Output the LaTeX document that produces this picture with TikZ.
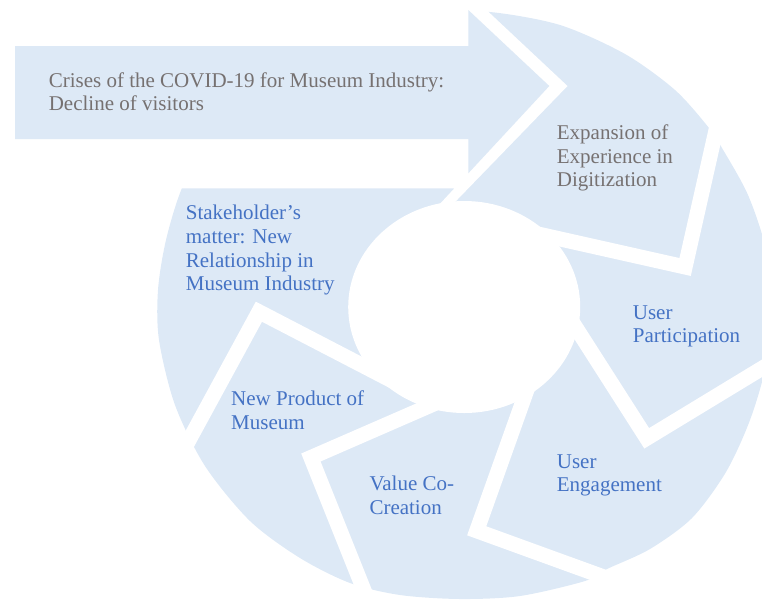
\documentclass[tikz,border=0pt]{standalone}
\usepackage{fontspec}
\setmainfont{Liberation Serif}
\definecolor{ringblue}{RGB}{221,233,246}
\definecolor{txtblue}{RGB}{68,114,196}
\definecolor{txtgray}{RGB}{118,113,113}
\begin{document}
\begin{tikzpicture}[x=1pt,y=-1pt,
  lbl/.style={font=\fontsize{21}{23.7}\selectfont, align=left, anchor=base west, inner sep=0pt},
  gapline/.style={white, line width=15pt, line join=miter, miter limit=10}]
\useasboundingbox (0,0) rectangle (762,600);
% ring
\fill[ringblue] plot[smooth cycle, tension=0.5] coordinates {
 (440,14) (490,12) (560,25) (625,54) (675,90) (709,128) (722,148) (748,195)
 (766,250) (771,310) (766,365) (750,420) (726,472) (692,518) (650,549) (607,569)
 (585,581) (520,596) (460,599) (400,595) (350,583) (300,558) (250,521) (205,466)
 (175,405) (159,340) (158,290) (166,240) (182,188) (210,135) (260,80) (330,38) (390,20)};
\fill[white] (464.2,307) ellipse [x radius=116, y radius=106];
% gaps between segments
\draw[gapline] (729.2,71.5) -- (685.1,267) -- (509.5,227.6);
\draw[gapline] (556.7,297.5) -- (646.7,438.3) -- (808.1,340.3);
\draw[gapline] (538.5,357.5) -- (476.7,530.8) -- (656,595.9);
\draw[gapline] (460.1,392.5) -- (310.9,457.5) -- (378.5,626.5);
\draw[gapline] (420,395.3) -- (258.9,311.7) -- (162.4,489.1);
% white area around the arrow (top of the ring)
\fill[white] (-5,-20) -- (464.5,-10.6) -- (567.5,86) -- (429.4,228.5) -- (417.5,228)
  -- (454.4,188.3) -- (-5,188.3) -- cycle;
% arrow
\fill[ringblue] (15,46) -- (468.3,46) -- (468.3,10) -- (549.3,86) -- (468.3,173.3)
  -- (468.3,139) -- (15,139) -- cycle;
% labels (anchor = baseline of the last line)
\node[lbl, font=\fontsize{21}{22.7}\selectfont, text=txtgray] (crises) at (48.6,110)
  {Crises of the COVID-19 for Museum Industry:\\Decline of visitors};
\node[lbl, text=txtgray] (expansion) at (556.7,186.7) {Expansion of\\Experience in\\Digitization};
\node[lbl, text=txtblue] (participation) at (632.7,342.7) {User\\Participation};
\node[lbl, text=txtblue] (engagement) at (556.7,491.7) {User\\Engagement};
\node[lbl, text=txtblue] (valuecc) at (369.3,514) {Value Co-\\Creation};
\node[lbl, text=txtblue] (newprod) at (231,429.3) {New Product of\\Museum};
\node[lbl, text=txtblue] (stake) at (185.7,290.7) {Stakeholder’s\\matter: New\\Relationship in\\Museum Industry};
\end{tikzpicture}
\end{document}
